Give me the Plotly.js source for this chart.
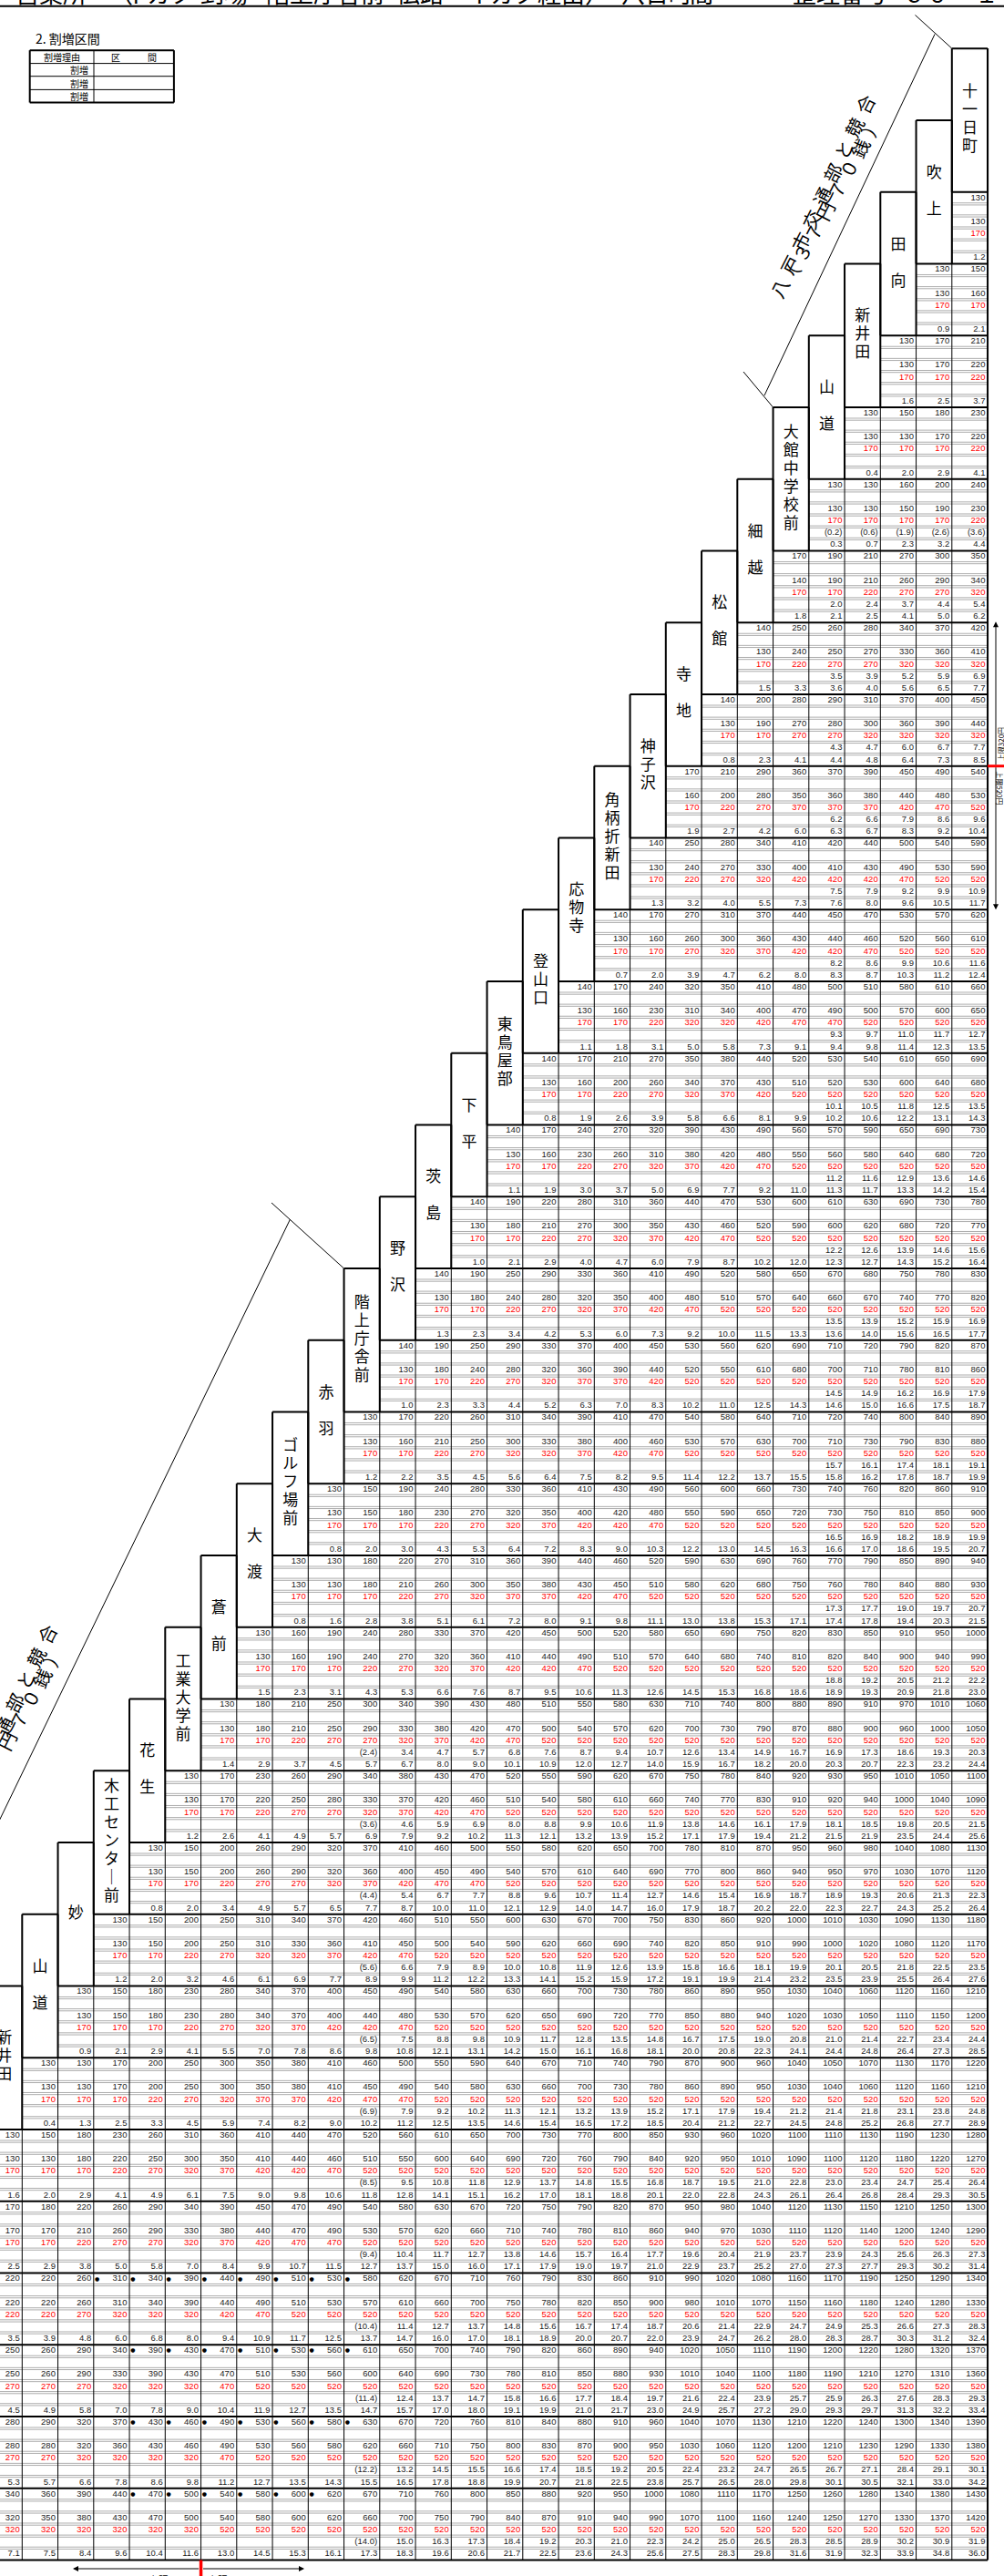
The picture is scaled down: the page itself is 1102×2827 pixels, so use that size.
<!DOCTYPE html>
<html><head><meta charset="utf-8">
<script src="https://cdn.plot.ly/plotly-3.0.1.min.js"></script>
<style>html,body{margin:0;padding:0;background:#fff;}#chart{width:1102px;height:2827px;}</style>
</head><body><div id="chart"></div>
<script>
// stop names, column 0 (left, partly cut) .. column 27 (right)
const stopNames = ["新井田","山道","妙","木工センター前","花生","工業大学前","蒼前","大渡","ゴルフ場前","赤羽","階上庁舎前","野沢","茨島","下平","東鳥屋部","登山口","応物寺","角柄折新田","神子沢","寺地","松館","細越","大館中学校前","山道","新井田","田向","吹上","十一日町"];

// each row lists its cells from its first (left-most) column to column 27
const fareA = [
 [130],
 [130,150],
 [130,170,210],
 [130,150,180,230],
 [130,130,160,200,240],
 [170,190,210,270,300,350],
 [140,250,260,280,340,370,420],
 [140,200,280,290,310,370,400,450],
 [170,210,290,360,370,390,450,490,540],
 [140,250,280,340,410,420,440,500,540,590],
 [140,170,270,310,370,440,450,470,530,570,620],
 [140,170,240,320,350,410,480,500,510,580,610,660],
 [140,170,210,270,350,380,440,520,530,540,610,650,690],
 [140,170,240,270,320,390,430,490,560,570,590,650,690,730],
 [140,190,220,280,310,360,440,470,530,600,610,630,690,730,780],
 [140,190,250,290,330,360,410,490,520,580,650,670,680,750,780,830],
 [140,190,250,290,330,370,400,450,530,560,620,690,710,720,790,820,870],
 [130,170,220,260,310,340,390,410,470,540,580,640,710,720,740,800,840,890],
 [130,150,190,240,280,330,360,410,430,490,560,600,660,730,740,760,820,860,910],
 [130,130,180,220,270,310,360,390,440,460,520,590,630,690,760,770,790,850,890,940],
 [130,160,190,240,280,330,370,420,450,500,520,580,650,690,750,820,830,850,910,950,1000],
 [130,180,210,250,300,340,390,430,480,510,550,580,630,710,740,800,880,890,910,970,1010,1060],
 [130,170,230,260,290,340,380,430,470,520,550,590,620,670,750,780,840,920,930,950,1010,1050,1100],
 [130,150,200,260,290,320,370,410,460,500,550,580,620,650,700,780,810,870,950,960,980,1040,1080,1130],
 [130,150,200,250,310,340,370,420,460,510,550,600,630,670,700,750,830,860,920,1000,1010,1030,1090,1130,1180],
 [130,150,180,230,280,340,370,400,450,490,540,580,630,660,700,730,780,860,890,950,1030,1040,1060,1120,1160,1210],
 [130,130,170,200,250,300,350,380,410,460,500,550,590,640,670,710,740,790,870,900,960,1040,1050,1070,1130,1170,1220],
 [130,150,180,230,260,310,360,410,440,470,520,560,610,650,700,730,770,800,850,930,960,1020,1100,1110,1130,1190,1230,1280],
 [170,180,220,260,290,340,390,450,470,490,540,580,630,670,720,750,790,820,870,950,980,1040,1120,1130,1150,1210,1250,1300],
 [220,220,260,310,340,390,440,490,510,530,580,620,670,710,760,790,830,860,910,990,1020,1080,1160,1170,1190,1250,1290,1340],
 [250,260,290,340,390,430,470,510,530,560,610,650,700,740,790,820,860,890,940,1020,1050,1110,1190,1200,1220,1280,1320,1370],
 [280,290,320,370,430,460,490,530,560,580,630,670,720,760,810,840,880,910,960,1040,1070,1130,1210,1220,1240,1300,1340,1390],
 [340,360,390,440,470,500,540,580,600,620,670,710,760,800,850,880,920,950,1000,1080,1110,1170,1250,1260,1280,1340,1380,1430]
];
const fareB = [
 [130],
 [130,160],
 [130,170,220],
 [130,130,170,220],
 [130,130,150,190,230],
 [140,190,210,260,290,340],
 [130,240,250,270,330,360,410],
 [130,190,270,280,300,360,390,440],
 [160,200,280,350,360,380,440,480,530],
 [130,240,270,330,400,410,430,490,530,590],
 [130,160,260,300,360,430,440,460,520,560,610],
 [130,160,230,310,340,400,470,490,500,570,600,650],
 [130,160,200,260,340,370,430,510,520,530,600,640,680],
 [130,160,230,260,310,380,420,480,550,560,580,640,680,720],
 [130,180,210,270,300,350,430,460,520,590,600,620,680,720,770],
 [130,180,240,280,320,350,400,480,510,570,640,660,670,740,770,820],
 [130,180,240,280,320,360,390,440,520,550,610,680,700,710,780,810,860],
 [130,160,210,250,300,330,380,400,460,530,570,630,700,710,730,790,830,880],
 [130,150,180,230,270,320,350,400,420,480,550,590,650,720,730,750,810,850,900],
 [130,130,180,210,260,300,350,380,430,450,510,580,620,680,750,760,780,840,880,930],
 [130,160,190,240,270,320,360,410,440,490,510,570,640,680,740,810,820,840,900,940,990],
 [130,180,210,250,290,330,380,420,470,500,540,570,620,700,730,790,870,880,900,960,1000,1050],
 [130,170,220,250,280,330,370,420,460,510,540,580,610,660,740,770,830,910,920,940,1000,1040,1090],
 [130,150,200,260,290,320,360,400,450,490,540,570,610,640,690,770,800,860,940,950,970,1030,1070,1120],
 [130,150,200,250,310,330,360,410,450,500,540,590,620,660,690,740,820,850,910,990,1000,1020,1080,1120,1170],
 [130,150,180,230,280,340,370,400,440,480,530,570,620,650,690,720,770,850,880,940,1020,1030,1050,1110,1150,1200],
 [130,130,170,200,250,300,350,380,410,450,490,540,580,630,660,700,730,780,860,890,950,1030,1040,1060,1120,1160,1210],
 [130,130,180,220,250,300,350,410,440,460,510,550,600,640,690,720,760,790,840,920,950,1010,1090,1100,1120,1180,1220,1270],
 [170,170,210,260,290,330,380,440,470,490,530,570,620,660,710,740,780,810,860,940,970,1030,1110,1120,1140,1200,1240,1290],
 [220,220,260,310,340,390,440,490,510,530,570,610,660,700,750,780,820,850,900,980,1010,1070,1150,1160,1180,1240,1280,1330],
 [250,260,290,330,390,430,470,510,530,560,600,640,690,730,780,810,850,880,930,1010,1040,1100,1180,1190,1210,1270,1310,1360],
 [280,280,320,360,430,460,490,530,560,580,620,660,710,750,800,830,870,900,950,1030,1060,1120,1200,1210,1230,1290,1330,1380],
 [320,350,380,430,470,500,540,580,600,620,660,700,750,790,840,870,910,940,990,1070,1100,1160,1240,1250,1270,1330,1370,1420]
];
const fareRed = [
 [170],
 [170,170],
 [170,170,220],
 [170,170,170,220],
 [170,170,170,170,220],
 [170,170,220,270,270,320],
 [170,220,270,270,320,320,320],
 [170,170,270,270,320,320,320,320],
 [170,220,270,370,370,370,420,470,520],
 [170,220,270,320,420,420,420,470,520,520],
 [170,170,270,320,370,420,420,470,520,520,520],
 [170,170,220,320,320,420,470,470,520,520,520,520],
 [170,170,220,270,320,370,420,520,520,520,520,520,520],
 [170,170,220,270,320,370,420,470,520,520,520,520,520,520],
 [170,170,220,270,320,370,420,470,520,520,520,520,520,520,520],
 [170,170,220,270,320,370,420,470,520,520,520,520,520,520,520,520],
 [170,170,220,270,320,370,370,420,520,520,520,520,520,520,520,520,520],
 [170,170,220,270,320,320,370,420,470,520,520,520,520,520,520,520,520,520],
 [170,170,170,220,270,320,370,420,420,470,520,520,520,520,520,520,520,520,520],
 [170,170,170,220,270,320,370,370,420,470,520,520,520,520,520,520,520,520,520,520],
 [170,170,170,220,270,320,370,420,420,470,520,520,520,520,520,520,520,520,520,520,520],
 [170,170,220,270,270,320,370,420,470,520,520,520,520,520,520,520,520,520,520,520,520,520],
 [170,170,220,270,270,320,370,420,470,520,520,520,520,520,520,520,520,520,520,520,520,520,520],
 [170,170,220,270,270,320,370,420,470,470,520,520,520,520,520,520,520,520,520,520,520,520,520,520],
 [170,170,220,270,320,320,370,420,470,520,520,520,520,520,520,520,520,520,520,520,520,520,520,520,520],
 [170,170,170,220,270,320,370,420,420,470,520,520,520,520,520,520,520,520,520,520,520,520,520,520,520,520],
 [170,170,170,220,270,320,370,370,420,470,470,520,520,520,520,520,520,520,520,520,520,520,520,520,520,520,520],
 [170,170,170,220,270,320,370,420,420,470,520,520,520,520,520,520,520,520,520,520,520,520,520,520,520,520,520,520],
 [170,170,220,270,270,320,370,420,470,470,520,520,520,520,520,520,520,520,520,520,520,520,520,520,520,520,520,520],
 [220,220,270,320,320,320,420,470,520,520,520,520,520,520,520,520,520,520,520,520,520,520,520,520,520,520,520,520],
 [270,270,270,320,320,320,470,520,520,520,520,520,520,520,520,520,520,520,520,520,520,520,520,520,520,520,520,520],
 [270,270,320,320,320,320,470,520,520,520,520,520,520,520,520,520,520,520,520,520,520,520,520,520,520,520,520,520],
 [320,320,320,320,320,320,520,520,520,520,520,520,520,520,520,520,520,520,520,520,520,520,520,520,520,520,520,520]
];
const distSub = [
 [],[],[],[],
 ["(0.2)","(0.6)","(1.9)","(2.6)","(3.6)"],
 ["","2.0","2.4","3.7","4.4","5.4"],
 ["","","3.5","3.9","5.2","5.9","6.9"],
 ["","","","4.3","4.7","6.0","6.7","7.7"],
 ["","","","","6.2","6.6","7.9","8.6","9.6"],
 ["","","","","","7.5","7.9","9.2","9.9","10.9"],
 ["","","","","","","8.2","8.6","9.9","10.6","11.6"],
 ["","","","","","","","9.3","9.7","11.0","11.7","12.7"],
 ["","","","","","","","","10.1","10.5","11.8","12.5","13.5"],
 ["","","","","","","","","","11.2","11.6","12.9","13.6","14.6"],
 ["","","","","","","","","","","12.2","12.6","13.9","14.6","15.6"],
 ["","","","","","","","","","","","13.5","13.9","15.2","15.9","16.9"],
 ["","","","","","","","","","","","","14.5","14.9","16.2","16.9","17.9"],
 ["","","","","","","","","","","","","","15.7","16.1","17.4","18.1","19.1"],
 ["","","","","","","","","","","","","","","16.5","16.9","18.2","18.9","19.9"],
 ["","","","","","","","","","","","","","","","17.3","17.7","19.0","19.7","20.7"],
 ["","","","","","","","","","","","","","","","","18.8","19.2","20.5","21.2","22.2"],
 ["","","","","(2.4)","3.4","4.7","5.7","6.8","7.6","8.7","9.4","10.7","12.6","13.4","14.9","16.7","16.9","17.3","18.6","19.3","20.3"],
 ["","","","","","(3.6)","4.6","5.9","6.9","8.0","8.8","9.9","10.6","11.9","13.8","14.6","16.1","17.9","18.1","18.5","19.8","20.5","21.5"],
 ["","","","","","","(4.4)","5.4","6.7","7.7","8.8","9.6","10.7","11.4","12.7","14.6","15.4","16.9","18.7","18.9","19.3","20.6","21.3","22.3"],
 ["","","","","","","","(5.6)","6.6","7.9","8.9","10.0","10.8","11.9","12.6","13.9","15.8","16.6","18.1","19.9","20.1","20.5","21.8","22.5","23.5"],
 ["","","","","","","","","(6.5)","7.5","8.8","9.8","10.9","11.7","12.8","13.5","14.8","16.7","17.5","19.0","20.8","21.0","21.4","22.7","23.4","24.4"],
 ["","","","","","","","","","(6.9)","7.9","9.2","10.2","11.3","12.1","13.2","13.9","15.2","17.1","17.9","19.4","21.2","21.4","21.8","23.1","23.8","24.8"],
 ["","","","","","","","","","","(8.5)","9.5","10.8","11.8","12.9","13.7","14.8","15.5","16.8","18.7","19.5","21.0","22.8","23.0","23.4","24.7","25.4","26.4"],
 ["","","","","","","","","","","(9.4)","10.4","11.7","12.7","13.8","14.6","15.7","16.4","17.7","19.6","20.4","21.9","23.7","23.9","24.3","25.6","26.3","27.3"],
 ["","","","","","","","","","","(10.4)","11.4","12.7","13.7","14.8","15.6","16.7","17.4","18.7","20.6","21.4","22.9","24.7","24.9","25.3","26.6","27.3","28.3"],
 ["","","","","","","","","","","(11.4)","12.4","13.7","14.7","15.8","16.6","17.7","18.4","19.7","21.6","22.4","23.9","25.7","25.9","26.3","27.6","28.3","29.3"],
 ["","","","","","","","","","","(12.2)","13.2","14.5","15.5","16.6","17.4","18.5","19.2","20.5","22.4","23.2","24.7","26.5","26.7","27.1","28.4","29.1","30.1"],
 ["","","","","","","","","","","(14.0)","15.0","16.3","17.3","18.4","19.2","20.3","21.0","22.3","24.2","25.0","26.5","28.3","28.5","28.9","30.2","30.9","31.9"]
];
const dist = [
 ["1.2"],
 ["0.9","2.1"],
 ["1.6","2.5","3.7"],
 ["0.4","2.0","2.9","4.1"],
 ["0.3","0.7","2.3","3.2","4.4"],
 ["1.8","2.1","2.5","4.1","5.0","6.2"],
 ["1.5","3.3","3.6","4.0","5.6","6.5","7.7"],
 ["0.8","2.3","4.1","4.4","4.8","6.4","7.3","8.5"],
 ["1.9","2.7","4.2","6.0","6.3","6.7","8.3","9.2","10.4"],
 ["1.3","3.2","4.0","5.5","7.3","7.6","8.0","9.6","10.5","11.7"],
 ["0.7","2.0","3.9","4.7","6.2","8.0","8.3","8.7","10.3","11.2","12.4"],
 ["1.1","1.8","3.1","5.0","5.8","7.3","9.1","9.4","9.8","11.4","12.3","13.5"],
 ["0.8","1.9","2.6","3.9","5.8","6.6","8.1","9.9","10.2","10.6","12.2","13.1","14.3"],
 ["1.1","1.9","3.0","3.7","5.0","6.9","7.7","9.2","11.0","11.3","11.7","13.3","14.2","15.4"],
 ["1.0","2.1","2.9","4.0","4.7","6.0","7.9","8.7","10.2","12.0","12.3","12.7","14.3","15.2","16.4"],
 ["1.3","2.3","3.4","4.2","5.3","6.0","7.3","9.2","10.0","11.5","13.3","13.6","14.0","15.6","16.5","17.7"],
 ["1.0","2.3","3.3","4.4","5.2","6.3","7.0","8.3","10.2","11.0","12.5","14.3","14.6","15.0","16.6","17.5","18.7"],
 ["1.2","2.2","3.5","4.5","5.6","6.4","7.5","8.2","9.5","11.4","12.2","13.7","15.5","15.8","16.2","17.8","18.7","19.9"],
 ["0.8","2.0","3.0","4.3","5.3","6.4","7.2","8.3","9.0","10.3","12.2","13.0","14.5","16.3","16.6","17.0","18.6","19.5","20.7"],
 ["0.8","1.6","2.8","3.8","5.1","6.1","7.2","8.0","9.1","9.8","11.1","13.0","13.8","15.3","17.1","17.4","17.8","19.4","20.3","21.5"],
 ["1.5","2.3","3.1","4.3","5.3","6.6","7.6","8.7","9.5","10.6","11.3","12.6","14.5","15.3","16.8","18.6","18.9","19.3","20.9","21.8","23.0"],
 ["1.4","2.9","3.7","4.5","5.7","6.7","8.0","9.0","10.1","10.9","12.0","12.7","14.0","15.9","16.7","18.2","20.0","20.3","20.7","22.3","23.2","24.4"],
 ["1.2","2.6","4.1","4.9","5.7","6.9","7.9","9.2","10.2","11.3","12.1","13.2","13.9","15.2","17.1","17.9","19.4","21.2","21.5","21.9","23.5","24.4","25.6"],
 ["0.8","2.0","3.4","4.9","5.7","6.5","7.7","8.7","10.0","11.0","12.1","12.9","14.0","14.7","16.0","17.9","18.7","20.2","22.0","22.3","22.7","24.3","25.2","26.4"],
 ["1.2","2.0","3.2","4.6","6.1","6.9","7.7","8.9","9.9","11.2","12.2","13.3","14.1","15.2","15.9","17.2","19.1","19.9","21.4","23.2","23.5","23.9","25.5","26.4","27.6"],
 ["0.9","2.1","2.9","4.1","5.5","7.0","7.8","8.6","9.8","10.8","12.1","13.1","14.2","15.0","16.1","16.8","18.1","20.0","20.8","22.3","24.1","24.4","24.8","26.4","27.3","28.5"],
 ["0.4","1.3","2.5","3.3","4.5","5.9","7.4","8.2","9.0","10.2","11.2","12.5","13.5","14.6","15.4","16.5","17.2","18.5","20.4","21.2","22.7","24.5","24.8","25.2","26.8","27.7","28.9"],
 ["1.6","2.0","2.9","4.1","4.9","6.1","7.5","9.0","9.8","10.6","11.8","12.8","14.1","15.1","16.2","17.0","18.1","18.8","20.1","22.0","22.8","24.3","26.1","26.4","26.8","28.4","29.3","30.5"],
 ["2.5","2.9","3.8","5.0","5.8","7.0","8.4","9.9","10.7","11.5","12.7","13.7","15.0","16.0","17.1","17.9","19.0","19.7","21.0","22.9","23.7","25.2","27.0","27.3","27.7","29.3","30.2","31.4"],
 ["3.5","3.9","4.8","6.0","6.8","8.0","9.4","10.9","11.7","12.5","13.7","14.7","16.0","17.0","18.1","18.9","20.0","20.7","22.0","23.9","24.7","26.2","28.0","28.3","28.7","30.3","31.2","32.4"],
 ["4.5","4.9","5.8","7.0","7.8","9.0","10.4","11.9","12.7","13.5","14.7","15.7","17.0","18.0","19.1","19.9","21.0","21.7","23.0","24.9","25.7","27.2","29.0","29.3","29.7","31.3","32.2","33.4"],
 ["5.3","5.7","6.6","7.8","8.6","9.8","11.2","12.7","13.5","14.3","15.5","16.5","17.8","18.8","19.9","20.7","21.8","22.5","23.8","25.7","26.5","28.0","29.8","30.1","30.5","32.1","33.0","34.2"],
 ["7.1","7.5","8.4","9.6","10.4","11.6","13.0","14.5","15.3","16.1","17.3","18.3","19.6","20.6","21.7","22.5","23.6","24.3","25.6","27.5","28.3","29.8","31.6","31.9","32.3","33.9","34.8","36.0"]
];
// rows whose first-fare cells carry a dot: [row, from column, to column]
const dotRuns = [[30,3,10],[31,4,10],[32,4,10],[33,4,9]];

// ---------- geometry ----------
const X0=24.3, CW=39.25, Y0=210.7, BH=78.75, SH=BH/6, NR=33;
const RIGHT = X0+27*CW;
const colLeft = c => X0+(c-1)*CW;
const rowTop = r => Y0+(r-1)*BH;
const firstCol = r => Math.max(0,28-r);
const boxTop = c => rowTop(26-c), boxBot = c => rowTop(28-c);
const BOTTOM = rowTop(NR+1);

function seg(a,x1,y1,x2,y2){a.x.push(x1,x2,null);a.y.push(y1,y2,null);}
const thick={x:[],y:[]}, thin={x:[],y:[]}, gray={x:[],y:[]}, hair={x:[],y:[]};
for(let r=1;r<=NR;r++){
  const xl=colLeft(firstCol(r)), t=rowTop(r);
  seg(thick,xl,t,RIGHT,t);
  for(let k=1;k<6;k++){const y=t+k*SH; seg(gray,xl,y-1.1,RIGHT,y-1.1); seg(gray,xl,y+1.1,RIGHT,y+1.1);}
}
seg(thick,colLeft(0),BOTTOM,RIGHT,BOTTOM);
seg(thick,RIGHT,boxTop(27),RIGHT,BOTTOM);
for(let c=0;c<28;c++){
  const l=colLeft(c), bt=boxTop(c), bb=boxBot(c);
  seg(thick,l,bt,l+CW,bt); seg(thick,l,bt,l,bb); seg(thick,l+CW,bt,l+CW,bb);
  seg(thin,l,bb,l,BOTTOM);
}
// surcharge table (top-left)
const tL=32.7,tR=190.9,tM=103,tRows=[55.2,69.6,83.7,98.4,112.5];
seg(thick,tL,tRows[0],tR,tRows[0]); seg(thick,tL,tRows[4],tR,tRows[4]);
seg(thick,tL,tRows[0],tL,tRows[4]); seg(thick,tR,tRows[0],tR,tRows[4]);
for(let i=1;i<4;i++) seg(thin,tL,tRows[i],tR,tRows[i]);
seg(thin,tM,tRows[0],tM,tRows[4]);
// title underline
seg(thick,0,6.8,1102,6.8);
// bracket (top right)
seg(hair,1004.5,16.5,1044.8,53.2); seg(hair,816,408,848.5,447);
seg(hair,1026,37.5,839,434);
// bracket (lower left)
seg(hair,298,1320,377.5,1392);
seg(hair,318.5,1338,-10,2017);

// ---------- texts ----------
const blk={x:[],y:[],t:[]}, red={x:[],y:[],t:[]}, dots={x:[],y:[],t:[]}, names={x:[],y:[],t:[]};
const fields=[[fareA,0,blk],[fareB,2,blk],[fareRed,3,red],[distSub,4,blk],[dist,5,blk]];
for(let r=1;r<=NR;r++){
  const c0=firstCol(r);
  for(const [arr,k,tg] of fields){
    const row=arr[r-1]||[];
    row.forEach((v,i)=>{
      if(v===null||v==="") return;
      const c=c0+i;
      tg.x.push(colLeft(c)+CW-2.6); tg.y.push(rowTop(r)+(k+0.5)*SH); tg.t.push(String(v));
    });
  }
}
for(const [r,ca,cb] of dotRuns){
  for(let c=ca;c<=cb;c++){dots.x.push(colLeft(c)+1.2); dots.y.push(rowTop(r)+0.5*SH); dots.t.push('●');}
}
stopNames.forEach((nm,c)=>{
  const chars=[...nm].map(ch=>ch==='ー'?'｜':ch);
  const n=chars.length, pitch=n===2?40:20, cy=(boxTop(c)+boxBot(c))/2;
  chars.forEach((ch,k)=>{names.x.push(colLeft(c)+CW/2); names.y.push(cy+(k-(n-1)/2)*pitch); names.t.push(ch);});
});

const lineTrace=(a,w,col)=>({type:'scatter',mode:'lines',x:a.x,y:a.y,line:{color:col,width:w},hoverinfo:'skip',showlegend:false});
const textTrace=(a,pos,size,col,fam)=>({type:'scatter',mode:'text',x:a.x,y:a.y,text:a.t,textposition:pos,textfont:{size:size,color:col,family:fam},hoverinfo:'skip',showlegend:false});
const NUMF='Liberation Sans, Arial, sans-serif', JPF='Noto Sans CJK JP, sans-serif';

const traces=[
  lineTrace(gray,0.7,'#8a8a8a'),
  lineTrace(thin,1,'#000'),
  lineTrace(thick,2,'#000'),
  lineTrace(hair,1,'#000'),
  textTrace(blk,'middle left',9.5,'#1a1a1a',NUMF),
  textTrace(red,'middle left',9.5,'#ff0000',NUMF),
  textTrace(dots,'middle right',6,'#000','DejaVu Sans'),
  textTrace(names,'middle center',17,'#000',JPF)
];

const ann=[];
function txt(x,y,t,size,xa,ya,extra){ann.push(Object.assign({x:x,y:y,xref:'x',yref:'y',text:t,showarrow:false,xanchor:xa,yanchor:ya,font:{size:size,color:'#000',family:JPF}},extra||{}));}
// cut-off title line
[["営業所",15],["（",118],["イカタ",133],["到場",218],["階上庁舎前",290],["伝路",433],["イカタ",510],["経由）",588],["八日町",680],["間",755],["整理番号",868],["６０",988],["－",1040],["１",1068],["－",1095]]
  .forEach(([t,x])=>txt(x,12,t,26,'left','bottom'));
// surcharge table
txt(37,42,'2. 割増区間',14,'left','middle');
txt((tL+tM)/2,(tRows[0]+tRows[1])/2,'割増理由',10,'center','middle');
txt((tM+tR)/2,(tRows[0]+tRows[1])/2,'区　　　間',10,'center','middle');
for(let i=1;i<4;i++) txt(tM-4,(tRows[i]+tRows[i+1])/2,'割増',10,'right','middle');
// bracket labels, characters laid along the slanted lines
function slant(str,x1,y1,x2,y2,size,ang){
  const ch=[...str], n=ch.length;
  ch.forEach((c,k)=>{const f=n===1?0:k/(n-1); txt(x1+(x2-x1)*f,y1+(y2-y1)*f,c,size,'center','middle',{textangle:ang});});
}
slant('八戸市交通部と競合',855,316,949,114,20,-63);
slant('（３７円７０銭）',867,300,956,139,20,-63);
slant('八戸市交通部と競合',-43,1995,51,1793,20,-63);
slant('（３７円７０銭）',-31,1979,58,1818,20,-63);
// right margin upper limits
function arrow(x1,y1,x2,y2){ann.push({x:x2,y:y2,ax:x1,ay:y1,xref:'x',yref:'y',axref:'x',ayref:'y',text:'',showarrow:true,arrowhead:2,arrowsize:1.2,arrowwidth:1,arrowcolor:'#000',standoff:0,startstandoff:0});}
const capRow=9;
arrow(1093,rowTop(capRow),1093,rowTop(7)-1);
arrow(1093,rowTop(capRow),1093,rowTop(11));
txt(1098,rowTop(capRow)-3,'上限320円',8,'center','bottom',{textangle:-90});
txt(1098,rowTop(capRow)+3,'上限520円',8,'center','top',{textangle:90});
// bottom upper limits
const capCol=6;
arrow(colLeft(capCol)-1,2819,80,2819);
arrow(colLeft(capCol)+1,2819,334,2819);
txt(colLeft(capCol)-5,2821,'上限320円',11,'right','top');
txt(colLeft(capCol)+5,2821,'上限520円',11,'left','top');

const shapes=[
  {type:'line',xref:'x',yref:'y',x0:RIGHT,x1:1102,y0:rowTop(capRow),y1:rowTop(capRow),line:{color:'#ff0000',width:3}},
  {type:'line',xref:'x',yref:'y',x0:colLeft(capCol),x1:colLeft(capCol),y0:BOTTOM,y1:2827,line:{color:'#ff0000',width:3.5}}
];

Plotly.newPlot('chart',traces,{
  width:1102,height:2827,margin:{l:0,r:0,t:0,b:0},paper_bgcolor:'#fff',plot_bgcolor:'#fff',
  xaxis:{range:[0,1102],visible:false,fixedrange:true},
  yaxis:{range:[2827,0],visible:false,fixedrange:true},
  showlegend:false,annotations:ann,shapes:shapes
},{staticPlot:true});
</script></body></html>
